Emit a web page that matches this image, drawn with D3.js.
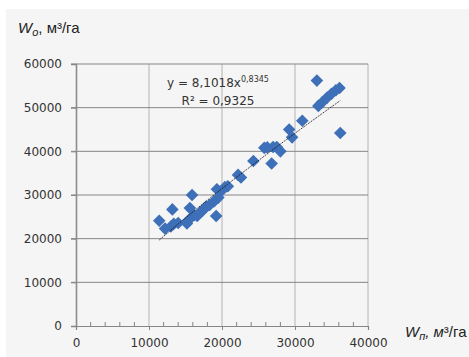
<!DOCTYPE html>
<html>
<head>
<meta charset="utf-8">
<script src="https://cdn.jsdelivr.net/npm/d3@7"></script>
<style>
  body { margin: 0; background: #fff; }
  svg { display: block; }
</style>
</head>
<body>
<svg id="chart" width="469" height="357"></svg>
<script>
// observed points: W_p (x), W_o (y), m3/ha
const wp = [11400, 12200, 13000, 13200, 13400, 14000, 15200, 15400, 15600, 15900,
            16200, 16600, 17000, 17400, 17800, 18300, 18900, 19200, 19300, 19500,
            19900, 20400, 20800, 22200, 22600, 24300, 25800, 26200, 26800, 27000,
            27500, 28000, 29200, 29600, 31000, 33000, 33200, 33700, 34400, 35000,
            35600, 36100, 36200]
const wo = [24100, 22300, 22800, 26700, 23400, 23600, 23500, 24200, 27000, 30000,
            25400, 25200, 26000, 26500, 27300, 27700, 28500, 25200, 31300, 29400,
            30900, 31800, 32000, 34600, 34000, 37800, 40800, 40900, 37200, 41000,
            41000, 40000, 45000, 43200, 47000, 56200, 50400, 51200, 52300, 53200,
            54000, 54500, 44200]

const xTicks = [0, 10000, 20000, 30000, 40000]
const yTicks = [0, 10000, 20000, 30000, 40000, 50000, 60000]

// power trend y = a * x^b
const trendA = 8.1018
const trendB = 0.8345
const trendR2 = "0,9325"

const points = wp.map((x, i) => ({x: x, y: wo[i]}))

const svg = d3.select("#chart")

// grey chart area
svg.append("rect")
    .attr("x", 6).attr("y", 9)
    .attr("width", 463).attr("height", 348)
    .attr("fill", "#f5f5f5")

const x = d3.scaleLinear().domain([0, 40000]).range([76, 368])
const y = d3.scaleLinear().domain([0, 60000]).range([326, 64])

const font = "'DejaVu Sans', sans-serif"
const titleFont = "'Liberation Sans', Arial, sans-serif"

// vertical gridlines (lighter)
svg.append("g").selectAll("line")
    .data(xTicks.slice(1))
    .join("line")
    .attr("x1", d => x(d)).attr("x2", d => x(d))
    .attr("y1", y(60000)).attr("y2", y(0))
    .attr("stroke", "#b4b4b4")
    .attr("stroke-width", 1)

// horizontal gridlines (darker)
svg.append("g").selectAll("line")
    .data(yTicks.slice(1))
    .join("line")
    .attr("x1", x(0) - 5).attr("x2", x(40000))
    .attr("y1", d => y(d)).attr("y2", d => y(d))
    .attr("stroke", "#858585")
    .attr("stroke-width", 1)

// y axis
let yAxis = svg.append("g")
    .attr("transform", `translate(${x(0)},0)`)
    .call(d3.axisLeft(y).tickValues(yTicks).tickSize(5).tickFormat(d => d))
yAxis.select(".domain").attr("stroke", "#8c8c8c").attr("stroke-width", 1.6)
yAxis.selectAll(".tick line").attr("stroke", "#858585")
yAxis.selectAll(".tick text")
    .attr("x", -14)
    .attr("font-family", font).attr("font-size", 12).attr("fill", "#333")

// x axis, minor ticks pointing up
let minor = d3.range(0, 40001, 2000).filter(d => d % 10000 !== 0)
svg.append("g").selectAll("line")
    .data(minor)
    .join("line")
    .attr("x1", d => x(d)).attr("x2", d => x(d))
    .attr("y1", y(0) - 4).attr("y2", y(0))
    .attr("stroke", "#858585")

let xAxis = svg.append("g")
    .attr("transform", `translate(0,${y(0)})`)
    .call(d3.axisBottom(x).tickValues(xTicks).tickSize(4).tickFormat(d => d))
xAxis.select(".domain").attr("stroke", "#858585").attr("stroke-width", 1.2)
xAxis.selectAll(".tick line").attr("stroke", "#858585")
xAxis.selectAll(".tick text")
    .attr("y", 12)
    .attr("font-family", font).attr("font-size", 12).attr("fill", "#333")

// diamond markers
const r = 6.3
svg.append("g").selectAll("path")
    .data(points)
    .join("path")
    .attr("d", d => {
        let cx = x(d.x), cy = y(d.y)
        return `M${cx},${cy - r}L${cx + r},${cy}L${cx},${cy + r}L${cx - r},${cy}Z`
    })
    .attr("fill", "#3d70b8")

// trend line
let xMin = d3.min(wp), xMax = d3.max(wp)
let trendData = d3.range(xMin, xMax + 1, 200).map(v => ({x: v, y: trendA * Math.pow(v, trendB)}))
svg.append("path")
    .datum(trendData)
    .attr("d", d3.line().x(d => x(d.x)).y(d => y(d.y)))
    .attr("fill", "none")
    .attr("stroke", "#111")
    .attr("stroke-width", 0.8)
    .attr("stroke-dasharray", "2,1")

// equation text
let eq = svg.append("text")
    .attr("x", 218).attr("y", 87)
    .attr("text-anchor", "middle")
    .attr("font-family", font).attr("font-size", 12).attr("fill", "#333")
eq.append("tspan").text("y = " + String(trendA).replace(".", ",") + "x")
eq.append("tspan").attr("dy", -5).attr("font-size", 8).text(String(trendB).replace(".", ","))

svg.append("text")
    .attr("x", 218).attr("y", 105)
    .attr("text-anchor", "middle")
    .attr("font-family", font).attr("font-size", 12).attr("fill", "#333")
    .text("R² = " + trendR2)

// axis titles
let yt = svg.append("text")
    .attr("x", 18).attr("y", 33)
    .attr("font-family", titleFont).attr("font-size", 15).attr("fill", "#222")
yt.append("tspan").attr("font-style", "italic").text("W")
yt.append("tspan").attr("font-style", "italic").attr("font-size", 11).attr("dy", 3).text("o")
yt.append("tspan").attr("dy", -3).text(", м³/га")

let xt = svg.append("text")
    .attr("x", 405).attr("y", 337)
    .attr("font-family", titleFont).attr("font-size", 15).attr("fill", "#222")
xt.append("tspan").attr("font-style", "italic").text("W")
xt.append("tspan").attr("font-style", "italic").attr("font-size", 11).attr("dy", 3).text("п")
xt.append("tspan").attr("dy", -3).attr("font-style", "italic").text(", м")
xt.append("tspan").text("³/га")
</script>
</body>
</html>
